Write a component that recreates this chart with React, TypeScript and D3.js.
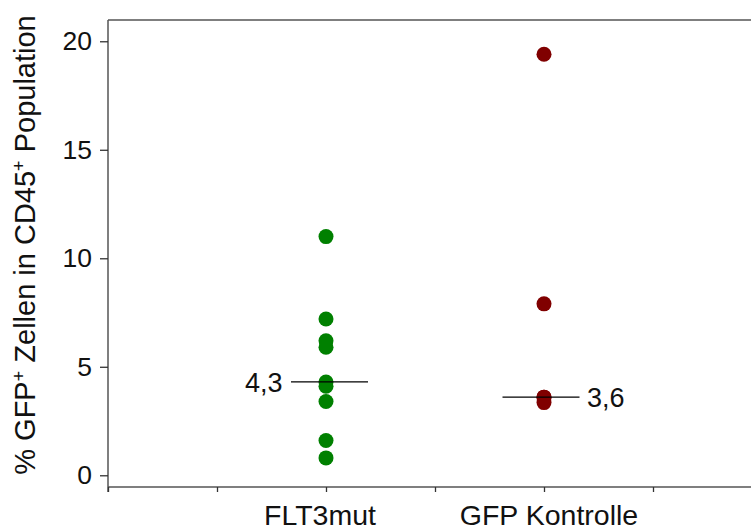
import React, { useEffect, useRef } from "react";
import * as d3 from "d3";

// Percentage of GFP+ cells within the CD45+ population, per group
const groups = ["FLT3mut", "GFP Kontrolle"];
const groupPos = [2, 4];
const flt3Values = [11.0, 7.2, 6.2, 5.9, 4.3, 4.1, 3.4, 1.6, 0.8];
const controlValues = [19.4, 7.9, 3.6, 3.6, 3.35];
const medianLabels = ["4,3", "3,6"];
const groupColors = ["#008000", "#800000"];
const yTicks = [0, 5, 10, 15, 20];
const xTicks = [0, 1, 2, 3, 4, 5, 6];

const W = 751;
const H = 531;
const FONT = "'Liberation Sans', Arial, sans-serif";

export default function App() {
  const ref = useRef<SVGSVGElement>(null);

  useEffect(() => {
    const svg = d3.select(ref.current);
    svg.selectAll("*").remove();

    const x = d3.scaleLinear().domain([0, 6]).range([108, 762]);
    const y = d3.scaleLinear().domain([-0.54, 20.98]).range([487, 20]);
    const series = [flt3Values, controlValues];

    // frame top line
    svg
      .append("line")
      .attr("x1", x(0))
      .attr("x2", W)
      .attr("y1", y.range()[1])
      .attr("y2", y.range()[1])
      .attr("stroke", "#555")
      .attr("stroke-width", 1.5);

    // y axis
    const yAxis = svg
      .append("g")
      .attr("transform", `translate(${x(0)},0)`)
      .call(
        d3
          .axisLeft(y)
          .tickValues(yTicks)
          .tickSize(8)
          .tickPadding(8)
          .tickFormat(d3.format("d"))
      );
    yAxis.select(".domain").attr("d", `M0,${y.range()[1]}V${y.range()[0] + 5}`);

    // x axis
    const xAxis = svg
      .append("g")
      .attr("transform", `translate(0,${y.range()[0]})`)
      .call(d3.axisBottom(x).tickValues(xTicks).tickSize(5).tickFormat(() => ""));
    xAxis.select(".domain").attr("d", `M${x(0)},0H${W}`);

    svg
      .selectAll(".domain")
      .attr("stroke", "#555")
      .attr("stroke-width", 1.5)
      .attr("fill", "none");
    svg.selectAll(".tick line").attr("stroke", "#333").attr("stroke-width", 1.3);
    yAxis
      .selectAll(".tick text")
      .attr("font-family", FONT)
      .attr("font-size", 26.5)
      .attr("fill", "#111");

    // category labels
    svg
      .append("g")
      .selectAll("text")
      .data(groups)
      .join("text")
      .attr("x", (_, i) => x(groupPos[i]) + (i === 0 ? -6 : 5))
      .attr("y", 525)
      .attr("text-anchor", "middle")
      .attr("font-family", FONT)
      .attr("font-size", 28.5)
      .attr("fill", "#111")
      .text((d) => d);

    // points
    series.forEach((vals, i) => {
      svg
        .append("g")
        .selectAll("circle")
        .data(vals)
        .join("circle")
        .attr("cx", x(groupPos[i]))
        .attr("cy", (d) => y(d))
        .attr("r", 7.5)
        .attr("fill", groupColors[i]);
    });

    // median lines and labels
    series.forEach((vals, i) => {
      const m = d3.median(vals) as number;
      const cx = x(groupPos[i]) + (i === 0 ? 3.5 : -3);
      svg
        .append("line")
        .attr("x1", cx - 38.5)
        .attr("x2", cx + 38.5)
        .attr("y1", y(m))
        .attr("y2", y(m))
        .attr("stroke", "#000")
        .attr("stroke-width", 1.3);
      svg
        .append("text")
        .attr("x", i === 0 ? cx - 47 : cx + 46)
        .attr("y", y(m))
        .attr("dy", "0.36em")
        .attr("text-anchor", i === 0 ? "end" : "start")
        .attr("font-family", FONT)
        .attr("font-size", 27)
        .attr("fill", "#111")
        .text(medianLabels[i]);
    });

    // y axis title
    const title = svg
      .append("text")
      .attr("transform", `translate(35,245) rotate(-90)`)
      .attr("text-anchor", "middle")
      .attr("font-family", FONT)
      .attr("font-size", 29)
      .attr("fill", "#111");
    title.append("tspan").text("% GFP");
    title.append("tspan").attr("dy", -10).attr("font-size", 18).text("+");
    title.append("tspan").attr("dy", 10).text(" Zellen in CD45");
    title.append("tspan").attr("dy", -10).attr("font-size", 18).text("+");
    title.append("tspan").attr("dy", 10).text(" Population");
  }, []);

  return (
    <svg
      ref={ref}
      width={W}
      height={H}
      style={{ position: "absolute", left: 0, top: 0, background: "#fff" }}
    />
  );
}
